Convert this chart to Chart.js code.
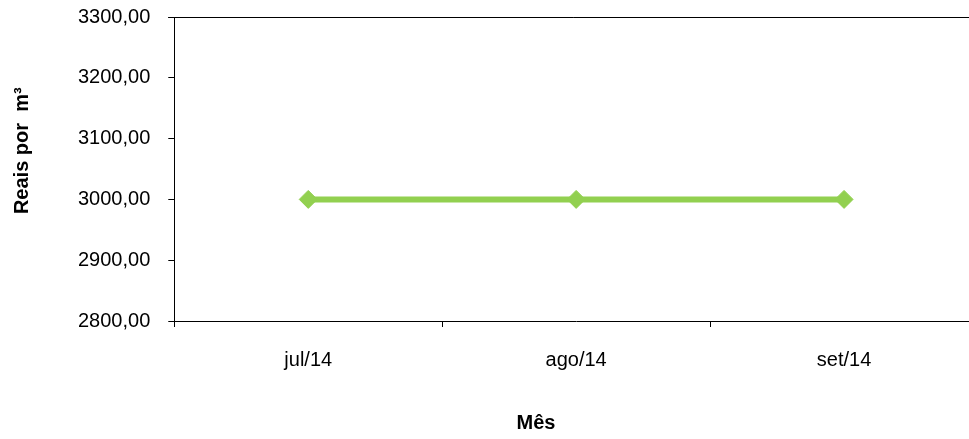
<!DOCTYPE html>
<html>
<head>
<meta charset="utf-8">
<script src="https://cdn.jsdelivr.net/npm/chart.js@4"></script>
<style>
  html, body { margin: 0; padding: 0; background: #fff; overflow: hidden; }
  #wrap { width: 969px; height: 439px; overflow: hidden; position: relative; }
  #c { position: absolute; left: 0; top: -13px; }
</style>
</head>
<body>
<div id="wrap"><canvas id="c" width="988" height="452"></canvas></div>
<script>
// Monthly price per cubic metre
const months = ['jul/14', 'ago/14', 'set/14'];
const prices = [3000, 3000, 3000];
const yMin = 2800;
const yMax = 3300;
const yStep = 100;
const xTitle = 'Mês';
const yTitle = 'Reais por  m³';

const fmt = v => v.toFixed(2).replace('.', ',');
const FONT = 'Liberation Sans, Arial, sans-serif';

// Top frame line and the two axis titles
const frameAndTitles = {
  id: 'frameAndTitles',
  afterDraw(chart) {
    const { ctx, chartArea } = chart;
    const w = chartArea.right - chartArea.left;
    const h = chartArea.bottom - chartArea.top;
    ctx.save();
    ctx.strokeStyle = '#000';
    ctx.lineWidth = 1;
    ctx.beginPath();
    ctx.moveTo(chartArea.left - 6, Math.round(chartArea.top) + 0.5);
    ctx.lineTo(chartArea.right, Math.round(chartArea.top) + 0.5);
    ctx.stroke();

    ctx.fillStyle = '#000';
    ctx.font = 'bold 20px ' + FONT;
    ctx.textAlign = 'center';
    ctx.textBaseline = 'middle';
    ctx.fillText(xTitle, chartArea.left + w * 0.45, chart.height - 16);

    ctx.translate(22, chartArea.top + h * 0.44);
    ctx.rotate(-Math.PI / 2);
    ctx.fillText(yTitle, 0, 0);
    ctx.restore();
  }
};

new Chart(document.getElementById('c'), {
  type: 'line',
  data: {
    labels: months,
    datasets: [{
      data: prices,
      borderColor: '#92D050',
      backgroundColor: '#92D050',
      borderWidth: 6,
      pointStyle: 'rectRot',
      pointRadius: 9,
      pointHoverRadius: 9,
      pointBorderWidth: 1,
      pointBorderColor: '#92D050',
      pointBackgroundColor: '#92D050',
      tension: 0
    }]
  },
  options: {
    responsive: false,
    animation: false,
    events: [],
    layout: { padding: { top: 0, right: 0, bottom: 46, left: 60 } },
    plugins: { legend: { display: false }, tooltip: { enabled: false } },
    scales: {
      x: {
        offset: true,
        grid: {
          offset: true,
          drawOnChartArea: false,
          drawTicks: true,
          tickLength: 6,
          color: '#000'
        },
        border: { color: '#000', width: 1 },
        ticks: {
          color: '#000',
          padding: 21,
          font: { family: FONT, size: 20 }
        }
      },
      y: {
        min: yMin,
        max: yMax,
        grid: {
          drawOnChartArea: false,
          drawTicks: true,
          tickLength: 6,
          color: '#000'
        },
        border: { color: '#000', width: 1 },
        ticks: {
          stepSize: yStep,
          color: '#000',
          padding: 18,
          callback: v => fmt(v),
          font: { family: FONT, size: 20 }
        }
      }
    }
  },
  plugins: [frameAndTitles]
});
</script>
</body>
</html>
